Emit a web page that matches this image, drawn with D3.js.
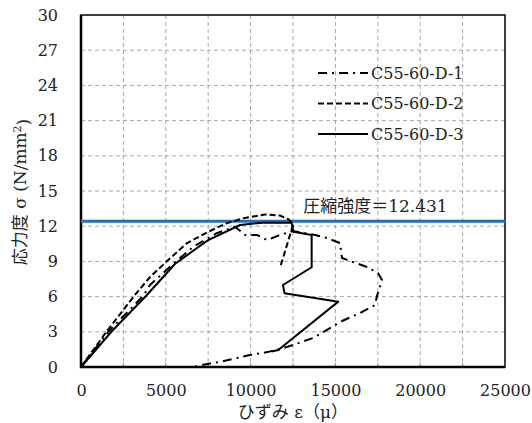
<!DOCTYPE html>
<html>
<head>
<meta charset="utf-8">
<script src="https://cdn.jsdelivr.net/npm/d3@7"></script>
<style>
  body { margin: 0; background: #fff; }
  text { font-family: "DejaVu Serif", "Noto Sans CJK JP", serif; fill: #222; }
</style>
</head>
<body>
<div id="chart"></div>
<script>
// series (strain in micro, stress in N/mm2)
var d1Strain = [0, 1650, 3660, 4070, 5250, 6620, 8000, 9080, 9670, 10380, 10970, 11730, 12500, 13800, 14500, 15270, 15390, 16040, 16860, 17510, 17750, 17450, 17330, 16450, 15390, 13680, 12500, 11560, 10670, 9960, 9200, 8200, 7610, 6600];
var d1Stress = [0, 3.07, 6.05, 6.99, 8.55, 10.25, 11.40, 11.96, 11.25, 11.25, 10.82, 11.25, 11.59, 11.25, 10.99, 10.57, 9.29, 8.95, 8.52, 8.01, 7.42, 6.05, 5.28, 4.60, 3.92, 2.47, 1.88, 1.45, 1.19, 1.02, 0.77, 0.43, 0.30, 0];

var d2Strain = [0, 1530, 3130, 4070, 5250, 6230, 7510, 8590, 9570, 10850, 11730, 12260, 12500, 11730];
var d2Stress = [0, 3.07, 6.05, 7.67, 9.26, 10.54, 11.53, 12.25, 12.67, 13.00, 12.91, 12.57, 12.10, 8.44];

var d3Strain = [0, 1830, 3830, 5550, 7500, 9380, 10680, 12420, 12520, 13600, 13600, 11910, 12000, 15170, 11630, 11240];
var d3Stress = [0, 3.07, 6.05, 8.80, 10.82, 12.10, 12.30, 12.30, 11.53, 11.25, 8.50, 6.99, 6.28, 5.57, 1.45, 1.32];

var seriesNames = ["C55-60-D-1", "C55-60-D-2", "C55-60-D-3"];
var strength = 12.431;

var xTicks = [0, 5000, 10000, 15000, 20000, 25000];
var yTicks = [0, 3, 6, 9, 12, 15, 18, 21, 24, 27, 30];

function drawChart() {
  var width = 532,
      height = 423;
  var margin = { left: 81, right: 27, top: 15, bottom: 56 };
  var plotW = width - margin.left - margin.right,
      plotH = height - margin.top - margin.bottom;

  var svg = d3.select("#chart")
    .append("svg")
    .attr("width", width)
    .attr("height", height);

  var g = svg.append("g")
    .attr("transform", "translate(" + margin.left + "," + margin.top + ")");

  var x = d3.scaleLinear().domain([0, 25000]).range([0, plotW]);
  var y = d3.scaleLinear().domain([0, 30]).range([plotH, 0]);

  // dashed grey grid
  g.append("g")
    .selectAll("line.vgrid")
    .data(d3.range(2500, 25000, 2500))
    .enter().append("line")
    .attr("x1", function(d) { return x(d); })
    .attr("x2", function(d) { return x(d); })
    .attr("y1", 0)
    .attr("y2", plotH)
    .attr("stroke", "#a6a6a6")
    .attr("stroke-width", 1)
    .attr("stroke-dasharray", "4,3");

  g.append("g")
    .selectAll("line.hgrid")
    .data(d3.range(3, 30, 3))
    .enter().append("line")
    .attr("x1", 0)
    .attr("x2", plotW)
    .attr("y1", function(d) { return y(d); })
    .attr("y2", function(d) { return y(d); })
    .attr("stroke", "#a6a6a6")
    .attr("stroke-width", 1)
    .attr("stroke-dasharray", "4,3");

  // axes, labels only
  var xAxis = g.append("g")
    .attr("transform", "translate(0," + plotH + ")")
    .call(d3.axisBottom(x).tickValues(xTicks).tickSize(0).tickPadding(18).tickFormat(d3.format("d")));
  var yAxis = g.append("g")
    .call(d3.axisLeft(y).tickValues(yTicks).tickSize(0).tickPadding(23));
  [xAxis, yAxis].forEach(function(a) {
    a.select(".domain").remove();
    a.attr("font-family", null);
    a.selectAll("text")
      .style("font-size", "16px")
      .attr("fill", "#222");
  });

  // small inside ticks on the bottom axis
  g.append("g")
    .selectAll("line.btick")
    .data(d3.range(2500, 25000, 2500))
    .enter().append("line")
    .attr("x1", function(d) { return x(d); })
    .attr("x2", function(d) { return x(d); })
    .attr("y1", plotH)
    .attr("y2", plotH - 4)
    .attr("stroke", "#888");

  // plot frame
  g.append("rect")
    .attr("width", plotW)
    .attr("height", plotH)
    .attr("fill", "none")
    .attr("stroke", "#000")
    .attr("stroke-width", 1.5);
  g.append("path")
    .attr("d", "M0,0V" + plotH + "H" + plotW)
    .attr("fill", "none")
    .attr("stroke", "#000")
    .attr("stroke-width", 2.5);

  // compressive strength line
  g.append("line")
    .attr("x1", 0)
    .attr("x2", plotW)
    .attr("y1", y(strength))
    .attr("y2", y(strength))
    .attr("stroke", "#1f6fbf")
    .attr("stroke-width", 3);

  g.append("text")
    .attr("x", x(13100))
    .attr("y", y(strength) - 9)
    .style("font-size", "17px")
    .text("圧縮強度＝" + strength);

  // curves
  var series = [
    { xs: d1Strain, ys: d1Stress, dash: "9,5,2,5" },
    { xs: d2Strain, ys: d2Stress, dash: "6,3" },
    { xs: d3Strain, ys: d3Stress, dash: null }
  ];

  var line = d3.line()
    .x(function(d) { return x(d[0]); })
    .y(function(d) { return y(d[1]); });

  series.forEach(function(s) {
    var pts = s.xs.map(function(v, i) { return [v, s.ys[i]]; });
    g.append("path")
      .datum(pts)
      .attr("d", line)
      .attr("fill", "none")
      .attr("stroke", "#000")
      .attr("stroke-width", 2)
      .attr("stroke-linejoin", "round")
      .attr("stroke-dasharray", s.dash);
  });

  // legend
  var legend = svg.append("g");
  seriesNames.forEach(function(name, i) {
    var ly = 73 + i * 30.5;
    legend.append("line")
      .attr("x1", 318)
      .attr("x2", 368)
      .attr("y1", ly)
      .attr("y2", ly)
      .attr("stroke", "#000")
      .attr("stroke-width", 2)
      .attr("stroke-dasharray", series[i].dash);
    legend.append("text")
      .attr("x", 371)
      .attr("y", ly)
      .attr("dy", "0.35em")
      .style("font-size", "16px")
      .text(name);
  });

  // axis titles
  svg.append("text")
    .attr("x", margin.left + plotW / 2)
    .attr("y", 418)
    .attr("text-anchor", "middle")
    .style("font-size", "17px")
    .text("ひずみ ε（μ）");

  var yt = svg.append("text")
    .attr("transform", "translate(26,192) rotate(-90)")
    .attr("text-anchor", "middle")
    .style("font-size", "17px");
  yt.append("tspan").text("応力度 σ (N/mm");
  yt.append("tspan").attr("dy", "-0.45em").style("font-size", "11px").text("2");
  yt.append("tspan").attr("dy", "0.45em").text(")");
}
drawChart();
</script>
</body>
</html>
